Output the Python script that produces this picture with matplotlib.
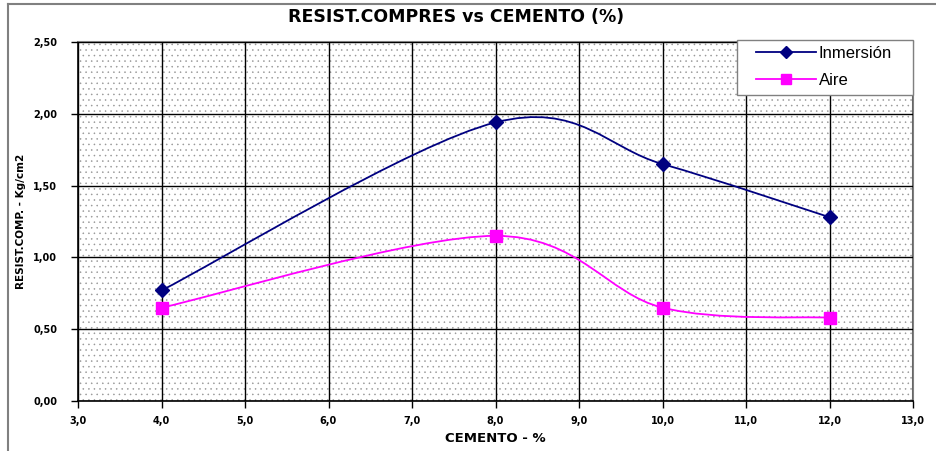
import matplotlib
matplotlib.use("Agg")
import matplotlib.pyplot as plt
from matplotlib.path import Path
from matplotlib.patches import PathPatch, Rectangle
from matplotlib.lines import Line2D
import numpy as np

# ---- data ----
cemento = [4.0, 8.0, 10.0, 12.0]
inmersion = [0.77, 1.94, 1.65, 1.28]
aire = [0.65, 1.15, 0.65, 0.58]
series_names = ["Inmersión", "Aire"]
x_ticks = [3.0, 4.0, 5.0, 6.0, 7.0, 8.0, 9.0, 10.0, 11.0, 12.0, 13.0]
y_ticks = [0.0, 0.5, 1.0, 1.5, 2.0, 2.5]
title = "RESIST.COMPRES vs CEMENTO (%)"
xlabel = "CEMENTO - %"
ylabel = "RESIST.COMP. - Kg/cm2"

navy = "#000080"
magenta = "#FF00FF"
bold_font = ["DejaVu Sans"]
reg_font = ["Liberation Sans", "DejaVu Sans"]
plt.rcParams["hatch.linewidth"] = 0.35


def smooth_path(xs, ys):
    """Excel-style smoothed line (Catmull-Rom cubic Bezier)."""
    P = np.column_stack([xs, ys]).astype(float)
    n = len(P)
    verts = [P[0]]
    codes = [Path.MOVETO]
    for i in range(n - 1):
        p0 = P[i - 1] if i > 0 else P[i]
        p1 = P[i]
        p2 = P[i + 1]
        p3 = P[i + 2] if i + 2 < n else P[i + 1]
        c1 = p1 + (p2 - p0) / 6.0
        c2 = p2 - (p3 - p1) / 6.0
        verts += [c1, c2, p2]
        codes += [Path.CURVE4] * 3
    return Path(verts, codes)


fig = plt.figure(figsize=(9.37, 4.51), dpi=100)
W, H = 937, 451
ax = fig.add_axes([78 / W, 1 - 401 / H, (913 - 78) / W, (401 - 42) / H])

# dotted background
ax.set_facecolor("white")
bg = Rectangle((0, 0), 1, 1, transform=ax.transAxes, facecolor="white",
               edgecolor="#959595", hatch="...", linewidth=0, zorder=0)
ax.add_patch(bg)

ax.set_xlim(3, 13)
ax.set_ylim(0, 2.5)
ax.set_xticks(x_ticks)
ax.set_yticks(y_ticks)
ax.set_xticklabels([f"{v:.1f}".replace(".", ",") for v in x_ticks],
                   fontfamily=bold_font, fontweight="bold", fontsize=7)
ax.set_yticklabels([f"{v:.2f}".replace(".", ",") for v in y_ticks],
                   fontfamily=bold_font, fontweight="bold", fontsize=7)
ax.tick_params(axis="x", length=5, width=1, pad=6, colors="black")
ax.tick_params(axis="y", length=5, width=1, pad=10, colors="black")
ax.grid(True, color="black", linewidth=1.0, zorder=1)
ax.set_axisbelow(False)

for s in ["left", "bottom"]:
    ax.spines[s].set_color("black")
    ax.spines[s].set_linewidth(1.2)
for s in ["top", "right"]:
    ax.spines[s].set_color("#808080")
    ax.spines[s].set_linewidth(1.5)

for ys, col, mk, ms in [(inmersion, navy, "D", 7), (aire, magenta, "s", 8)]:
    patch = PathPatch(smooth_path(cemento, ys), facecolor="none",
                      edgecolor=col, linewidth=1.3, zorder=3)
    ax.add_patch(patch)
    ax.plot(cemento, ys, linestyle="none", marker=mk, color=col,
            markersize=ms, zorder=4)

ax.set_xlabel(xlabel, fontfamily=bold_font, fontweight="bold", fontsize=9.5,
              labelpad=4)
ax.set_ylabel(ylabel, fontfamily=bold_font, fontweight="bold", fontsize=7.5,
              labelpad=5)
fig.text(456 / W, 1 - 17 / H, title, ha="center",
         va="center", fontfamily=bold_font, fontweight="bold", fontsize=12.5)

# legend box
box = Rectangle((737 / W, 1 - 95 / H), (913 - 737) / W, (95 - 40) / H,
                transform=fig.transFigure, facecolor="white",
                edgecolor="#808080", linewidth=1.0, zorder=9)
fig.add_artist(box)
handles = [Line2D([], [], color=navy, marker="D", markersize=6, linewidth=1.3),
           Line2D([], [], color=magenta, marker="s", markersize=7, linewidth=1.3)]
leg = fig.legend(handles, series_names, loc="center left",
                 bbox_to_anchor=(756 / W, 1 - 67 / H), frameon=False,
                 prop={"family": reg_font, "size": 12},
                 handlelength=3.6, borderpad=0, labelspacing=0.72,
                 handletextpad=0.15, borderaxespad=0)
leg.set_zorder(10)

# figure frame (top and left)
fig.add_artist(Line2D([8 / W, 8 / W], [0, 1 - 4 / H], color="#808080",
                      linewidth=1.5, transform=fig.transFigure))
fig.add_artist(Line2D([8 / W, 1], [1 - 4 / H, 1 - 4 / H], color="#808080",
                      linewidth=1.5, transform=fig.transFigure))

fig.savefig("out.png", dpi=100)
